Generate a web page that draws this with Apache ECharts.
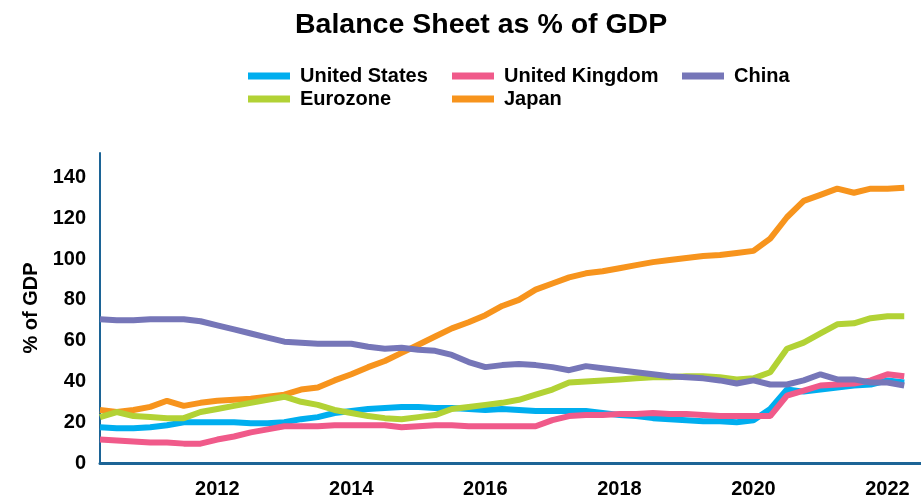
<!DOCTYPE html>
<html>
<head>
<meta charset="utf-8">
<script src="https://cdn.jsdelivr.net/npm/echarts@6/dist/echarts.min.js"></script>
<style>
  html, body { margin: 0; padding: 0; background: #fff; }
  #echart { width: 921px; height: 501px; }
</style>
</head>
<body>
<div id="echart"></div>
<script>
// quarterly points, 2010 Q2 .. 2022 Q2
var quarters = [
  2010.25, 2010.5, 2010.75, 2011, 2011.25, 2011.5, 2011.75, 2012,
  2012.25, 2012.5, 2012.75, 2013, 2013.25, 2013.5, 2013.75, 2014,
  2014.25, 2014.5, 2014.75, 2015, 2015.25, 2015.5, 2015.75, 2016,
  2016.25, 2016.5, 2016.75, 2017, 2017.25, 2017.5, 2017.75, 2018,
  2018.25, 2018.5, 2018.75, 2019, 2019.25, 2019.5, 2019.75, 2020,
  2020.25, 2020.5, 2020.75, 2021, 2021.25, 2021.5, 2021.75, 2022,
  2022.25
];
var yearLabels = [2012, 2014, 2016, 2018, 2020, 2022];
var yTicks = [0, 20, 40, 60, 80, 100, 120, 140];

var usData = [
  17.5, 17, 17, 17.5, 18.5, 20, 20, 20,
  20, 19.5, 19.5, 20, 21.5, 22.5, 24.5, 25.5,
  26.5, 27, 27.5, 27.5, 27, 27, 26.5, 26,
  26.5, 26, 25.5, 25.5, 25.5, 25.5, 24.5, 23.5,
  23, 22, 21.5, 21, 20.5, 20.5, 20, 21,
  26.5, 36, 35, 36, 37, 38, 38.5, 40.5,
  39.5
];
var ukData = [
  11.5, 11, 10.5, 10, 10, 9.5, 9.5, 11.5,
  13, 15, 16.5, 18, 18, 18, 18.5, 18.5,
  18.5, 18.5, 17.5, 18, 18.5, 18.5, 18, 18,
  18, 18, 18, 21, 23, 23.5, 23.5, 24,
  24, 24.5, 24, 24, 23.5, 23, 23, 23,
  23, 33, 35.5, 38, 38.5, 39, 40.5, 43.5,
  42.5
];
var chinaData = [
  70.5, 70, 70, 70.5, 70.5, 70.5, 69.5, 67.5,
  65.5, 63.5, 61.5, 59.5, 59, 58.5, 58.5, 58.5,
  57, 56, 56.5, 55.5, 55, 53, 49.5, 47,
  48, 48.5, 48, 47, 45.5, 47.5, 46.5, 45.5,
  44.5, 43.5, 42.5, 42, 41.5, 40.5, 39, 40.5,
  38.5, 38.5, 40.5, 43.5, 41, 41, 39.5, 39.5,
  38
];
var euroData = [
  22.5, 25, 23, 22.5, 22, 22, 25, 26.5,
  28, 29.5, 31, 32.5, 30, 28.5, 26, 24.5,
  23, 22, 21.5, 22.5, 23.5, 26.5, 27.5, 28.5,
  29.5, 31, 33.5, 36, 39.5, 40, 40.5, 41,
  41.5, 42, 42, 42.5, 42.5, 42, 41, 41.5,
  44.5, 56, 59, 63.5, 68, 68.5, 71, 72,
  72
];
var japanData = [
  26, 25, 26, 27.5, 30.5, 28, 29.5, 30.5,
  31, 31.5, 32.5, 33.5, 36, 37, 40.5, 43.5,
  47, 50, 54, 58, 62, 66, 69, 72.5,
  77, 80, 85, 88, 91, 93, 94, 95.5,
  97, 98.5, 99.5, 100.5, 101.5, 102, 103, 104,
  110, 120.5, 128.5, 131.5, 134.5, 132.5, 134.5, 134.5,
  135
];

function pairs(ys) {
  return quarters.map(function (q, i) { return [q, ys[i]]; });
}

var font = "'Liberation Sans', Arial, sans-serif";
var axisColor = "#1c6496";

var myChart = echarts.init(document.getElementById("echart"));

function legendCol(left, names) {
  return {
    orient: "vertical",
    left: left,
    top: 66,
    padding: 0,
    itemWidth: 42,
    itemHeight: 7,
    itemGap: 3,
    icon: "rect",
    selectedMode: false,
    data: names,
    textStyle: {
      color: "#000",
      fontFamily: font,
      fontWeight: "bold",
      fontSize: 20,
      lineHeight: 20,
      padding: [0, 0, 0, 5]
    }
  };
}

function line(name, color, ys, z) {
  return {
    name: name,
    type: "line",
    data: pairs(ys),
    symbol: "none",
    z: z,
    lineStyle: { width: 6, color: color },
    itemStyle: { color: color }
  };
}

var option = {
  animation: false,
  backgroundColor: "#fff",
  title: {
    text: "Balance Sheet as % of GDP",
    left: 290,
    top: 6,
    textStyle: {
      color: "#000",
      fontFamily: font,
      fontWeight: "bold",
      fontSize: 28.5
    }
  },
  legend: [
    legendCol(248, ["United States", "Eurozone"]),
    legendCol(452, ["United Kingdom", "Japan"]),
    legendCol(682, ["China"])
  ],
  grid: { left: 100, right: 0, top: 153, bottom: 38 },
  xAxis: {
    type: "value",
    min: 2010.25,
    max: 2022.5,
    splitLine: { show: false },
    axisTick: { show: false },
    axisLine: { lineStyle: { color: axisColor, width: 3 } },
    axisLabel: {
      customValues: yearLabels,
      formatter: function (v) { return String(v); },
      margin: 16,
      color: "#000",
      fontFamily: font,
      fontWeight: "bold",
      fontSize: 20
    }
  },
  yAxis: {
    type: "value",
    min: 0,
    max: 152,
    name: "% of GDP",
    nameLocation: "middle",
    nameGap: 55,
    nameTextStyle: {
      color: "#000",
      fontFamily: font,
      fontWeight: "bold",
      fontSize: 20
    },
    splitLine: { show: false },
    axisTick: { show: false },
    axisLine: { show: true, lineStyle: { color: axisColor, width: 2 } },
    axisLabel: {
      customValues: yTicks,
      margin: 14,
      color: "#000",
      fontFamily: font,
      fontWeight: "bold",
      fontSize: 20
    }
  },
  series: [
    line("United States", "#00aeef", usData, 2),
    line("United Kingdom", "#f05a8a", ukData, 3),
    line("Japan", "#f7941d", japanData, 4),
    line("Eurozone", "#b2d235", euroData, 5),
    line("China", "#7676b8", chinaData, 6)
  ]
};

myChart.setOption(option);
</script>
</body>
</html>
